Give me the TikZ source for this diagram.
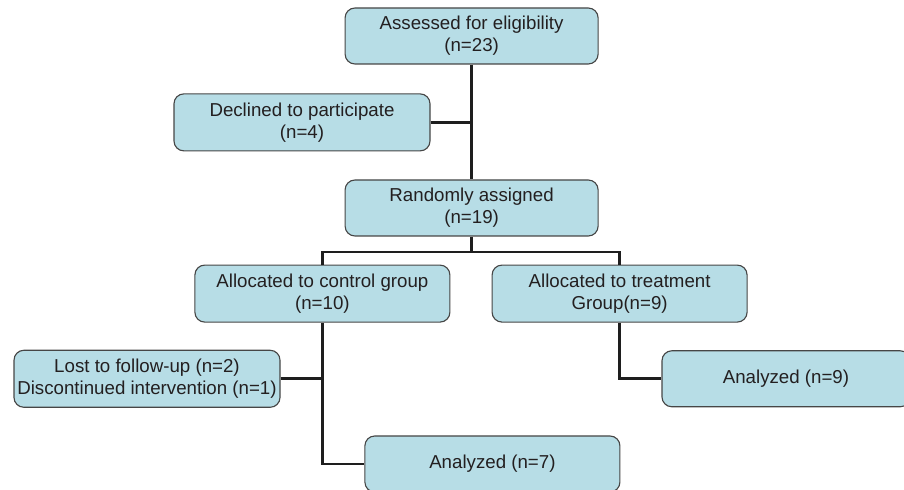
\documentclass[tikz,border=0pt]{standalone}
\usepackage{fontspec}
\setmainfont{Liberation Sans}
\usepackage{tikz}
\usetikzlibrary{calc, positioning}
\usepackage{xcolor}
\definecolor{boxFill}{RGB}{183, 221, 230}
\definecolor{boxLine}{RGB}{70, 70, 70}
\definecolor{linkLine}{RGB}{30, 30, 30}
\definecolor{inkText}{RGB}{35, 31, 32}

\begin{document}
\begin{tikzpicture}[
  box/.style={draw=boxLine, line width=0.8pt, fill=boxFill, rounded corners=7pt,
    align=center, text=inkText, inner sep=2pt, font=\fontsize{13.3}{15.6}\selectfont},
  link/.style={draw=linkLine, line width=2pt}]
  \useasboundingbox (0, 0) rectangle (22.6, 12.25);
  \clip (0, 0) rectangle (22.6, 12.25);

  \node[box, minimum width=6.325cm, minimum height=1.4cm] (assess) at (11.79, 11.35) {Assessed for eligibility\\(n=23)};
  \node[box, minimum width=6.4cm, minimum height=1.425cm] (declined) at (7.55, 9.19) {Declined to participate\\(n=4)};
  \node[box, minimum width=6.325cm, minimum height=1.4cm] (random) at (11.79, 7.05) {Randomly assigned\\(n=19)};
  \node[box, minimum width=6.375cm, minimum height=1.425cm] (control) at (8.06, 4.91) {Allocated to control group\\(n=10)};
  \node[box, minimum width=6.375cm, minimum height=1.425cm] (treat) at (15.49, 4.91) {Allocated to treatment\\Group(n=9)};
  \node[box, minimum width=6.65cm, minimum height=1.425cm] (lost) at (3.675, 2.78) {Lost to follow-up (n=2)\\Discontinued intervention (n=1)};
  \node[box, minimum width=6.2cm, minimum height=1.4cm] (anTreat) at (19.65, 2.78) {Analyzed (n=9)};
  \node[box, minimum width=6.375cm, minimum height=1.4cm] (anCtrl) at (12.31, 0.65) {Analyzed (n=7)};

  \coordinate (split) at (11.79, 5.95);

  \draw[link] (assess.south) -- (random.north);
  \draw[link] (declined.east) -- (declined.east -| assess.south);
  \draw[link] (random.south) -- (split);
  \draw[link] (control.north) |- (split) -| (treat.north);
  \draw[link] (control.south) |- (anCtrl.west);
  \draw[link] (lost.east) -- (lost.east -| control.south);
  \draw[link] (treat.south) |- (anTreat.west);
\end{tikzpicture}
\end{document}
